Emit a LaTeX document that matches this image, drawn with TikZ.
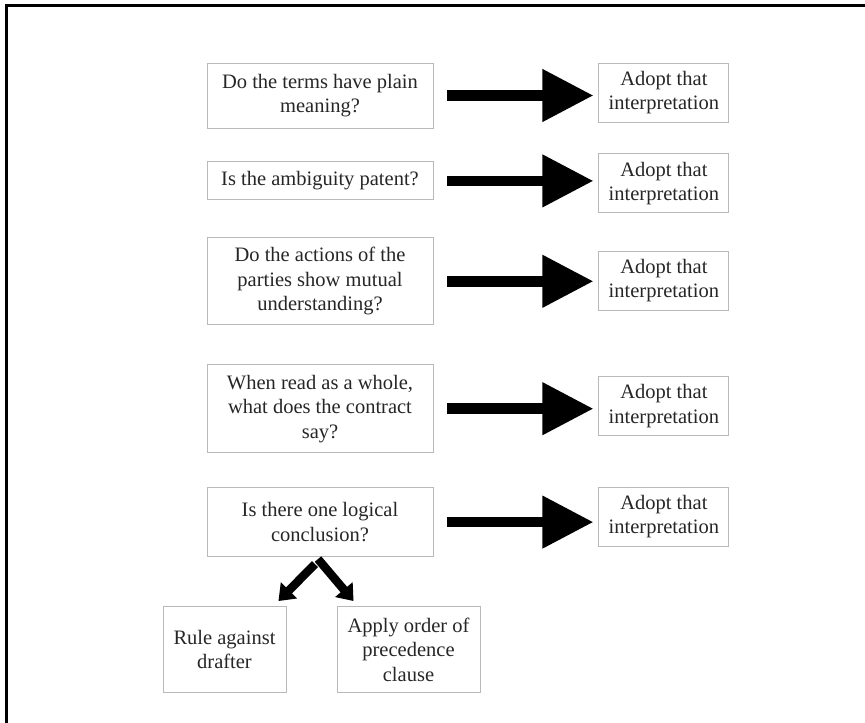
\documentclass[tikz,border=0pt]{standalone}
\usepackage{fontspec}
\setmainfont{Liberation Serif}
\usepackage{tikz}
\usetikzlibrary{positioning, arrows.meta}

\begin{document}
\begin{tikzpicture}[
  x=1pt, y=1pt,
  qbox/.style={draw=gray!55, line width=0.9pt, minimum width=226pt,
               inner sep=2pt, font=\fontsize{20.5}{24.5}\selectfont,
               align=center, text=black!85},
  abox/.style={qbox, minimum width=130pt, minimum height=59pt},
  endbox/.style={qbox, minimum height=86pt},
  bigarr/.style={-{Triangle[length=51pt, width=50pt]}, line width=10.5pt,
                 shorten <=14pt, shorten >=5pt},
  smallarr/.style={-{Triangle[length=15pt, width=22pt]}, line width=8.5pt}
]
\useasboundingbox (0,0) rectangle (865,723);

% Frame
\draw[line width=2.2pt] (6.5,0) -- (6.5,717.5) -- (865,717.5);

% Questions
\node[qbox, minimum height=65pt] (q1) at (320,627.5)
  {Do the terms have plain\\meaning?};
\node[qbox, minimum height=38pt, below=33pt of q1] (q2)
  {Is the ambiguity patent?};
\node[qbox, minimum height=87pt, below=37pt of q2] (q3)
  {Do the actions of the\\parties show mutual\\understanding?};
\node[qbox, minimum height=88pt, below=39pt of q3] (q4)
  {When read as a whole,\\what does the contract\\say?};
\node[qbox, minimum height=69pt, below=34pt of q4] (q5)
  {Is there one logical\\conclusion?};

% Answers
\node[abox, right=165pt of q1, yshift=3pt] (a1) {Adopt that\\interpretation};
\node[abox, right=165pt of q2, yshift=-2.5pt] (a2) {Adopt that\\interpretation};
\node[abox, right=165pt of q3, yshift=0.5pt] (a3) {Adopt that\\interpretation};
\node[abox, right=165pt of q4, yshift=2.5pt] (a4) {Adopt that\\interpretation};
\node[abox, right=165pt of q5, yshift=5.5pt] (a5) {Adopt that\\interpretation};

% Last resort
\node[endbox, minimum width=123pt, below=49pt of q5, xshift=-95.5pt] (rule)
  {Rule against\\drafter};
\node[endbox, minimum width=143pt, below=49pt of q5, xshift=88.5pt] (order)
  {Apply order of\\precedence\\clause};

% Arrows
\draw[bigarr] (q1) -- (q1 -| a1.west);
\draw[bigarr] (q2) -- (q2 -| a2.west);
\draw[bigarr] (q3) -- (q3 -| a3.west);
\draw[bigarr] (q4) -- (q4 -| a4.west);
\draw[bigarr] (q5) -- (q5 -| a5.west);
\draw[smallarr] ([shift={(-5pt,-7pt)}]q5.south) -- ([shift={(-8pt,5pt)}]rule.north east);
\draw[smallarr] ([shift={(-2pt,-2pt)}]q5.south) -- ([shift={(17pt,5pt)}]order.north west);

\end{tikzpicture}
\end{document}
